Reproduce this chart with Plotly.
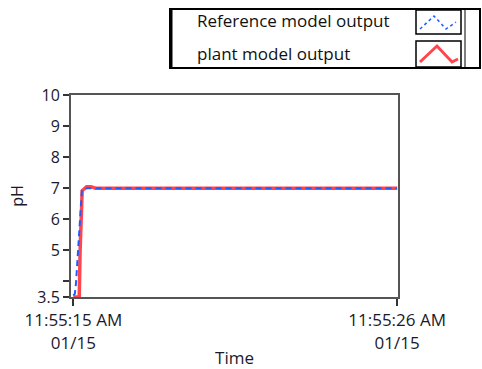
import plotly.graph_objects as go

day = "2024-01-15 11:55:"
ref_t = [15.0, 15.05, 15.09, 15.19, 15.25, 15.29, 15.45, 26.0]
ref_ph = [3.55, 3.6, 3.95, 5.3, 6.35, 6.93, 7.0, 7.0]
plant_t = [15.0, 15.2, 15.23, 15.3, 15.45, 15.6, 15.75, 26.0]
plant_ph = [3.5, 3.5, 5.0, 6.92, 7.05, 7.05, 7.0, 7.0]
y_ticks = [3.5, 4, 5, 6, 7, 8, 9, 10]
y_labels = ["3.5", "", "5", "6", "7", "8", "9", "10"]
x_ticks = [15.0, 26.0]
x_labels = ["11:55:15 AM<br>01/15", "11:55:26 AM<br>01/15"]

def ts(s):
    return day + f"{s:06.3f}"

fig = go.Figure()
fig.add_trace(go.Scatter(x=[ts(t) for t in plant_t], y=plant_ph, mode="lines",
                         name="plant model output",
                         line=dict(color="rgba(255,50,60,0.9)", width=3.5)))
fig.add_trace(go.Scatter(x=[ts(t) for t in ref_t], y=ref_ph, mode="lines",
                         name="Reference model output",
                         line=dict(color="#1e5cff", width=2, dash="6px,4px")))

font = "Open Sans, Noto Sans, sans-serif"
fig.update_layout(
    width=482, height=369, showlegend=False,
    margin=dict(l=71, r=84, t=95, b=72),
    plot_bgcolor="white", paper_bgcolor="white",
    font=dict(family=font, size=16, color="#1a1a2a"),
)
fig.update_xaxes(range=[ts(14.92), ts(26.03)], tickvals=[ts(t) for t in x_ticks],
                 ticktext=x_labels, ticks="outside", ticklen=7, tickwidth=2,
                 tickcolor="#333", showline=True, linecolor="#555", linewidth=2,
                 mirror=True, showgrid=False, zeroline=False, automargin=False,
                 title=dict(text="Time", standoff=0, font=dict(size=17)),
                 tickfont=dict(size=17))
fig.update_yaxes(range=[3.5, 10], tickvals=y_ticks, ticktext=y_labels,
                 ticks="outside", ticklen=6, tickwidth=1.5, tickcolor="#333",
                 showline=True, linecolor="#555", linewidth=2, mirror=True,
                 showgrid=False, zeroline=False, automargin=False,
                 title=dict(text="pH", standoff=10, font=dict(size=16)),
                 tickfont=dict(size=16))

pl, pr, pt, pb = 71, 398, 95, 297
def px(x):
    return (x - pl) / (pr - pl)
def py(y):
    return (pb - y) / (pb - pt)
shp = []
shp.append(dict(type="rect", xref="paper", yref="paper", x0=px(170), x1=px(480),
                y0=py(68), y1=py(9), line=dict(color="black", width=2)))
shp.append(dict(type="line", xref="paper", yref="paper", x0=px(171.5), x1=px(171.5),
                y0=py(68), y1=py(9), line=dict(color="black", width=2)))
shp.append(dict(type="line", xref="paper", yref="paper", x0=px(465), x1=px(465),
                y0=py(68), y1=py(9), line=dict(color="black", width=1)))
shp.append(dict(type="rect", xref="paper", yref="paper", x0=px(416), x1=px(461),
                y0=py(34), y1=py(10), line=dict(color="black", width=1.5)))
shp.append(dict(type="rect", xref="paper", yref="paper", x0=px(416), x1=px(461),
                y0=py(67), y1=py(41), line=dict(color="black", width=1.5)))
def path(pts):
    return "M " + " L ".join(f"{px(a)},{py(b)}" for a, b in pts)
shp.append(dict(type="path", xref="paper", yref="paper",
                path=path([(420, 29), (434, 16), (446, 29), (456, 22)]),
                line=dict(color="#1e5cff", width=1.5, dash="3px,3px")))
shp.append(dict(type="path", xref="paper", yref="paper",
                path=path([(420, 62), (437, 46), (452, 62), (458, 59)]),
                line=dict(color="rgba(255,50,60,0.9)", width=3)))
fig.update_layout(shapes=shp)
fig.add_annotation(xref="paper", yref="paper", x=px(195), y=py(21), xanchor="left",
                   yanchor="middle", text="Reference model output", showarrow=False,
                   font=dict(size=17, color="#111"))
fig.add_annotation(xref="paper", yref="paper", x=px(195), y=py(53), xanchor="left",
                   yanchor="middle", text="plant model output", showarrow=False,
                   font=dict(size=17, color="#111"))

fig.write_html("out.html")
